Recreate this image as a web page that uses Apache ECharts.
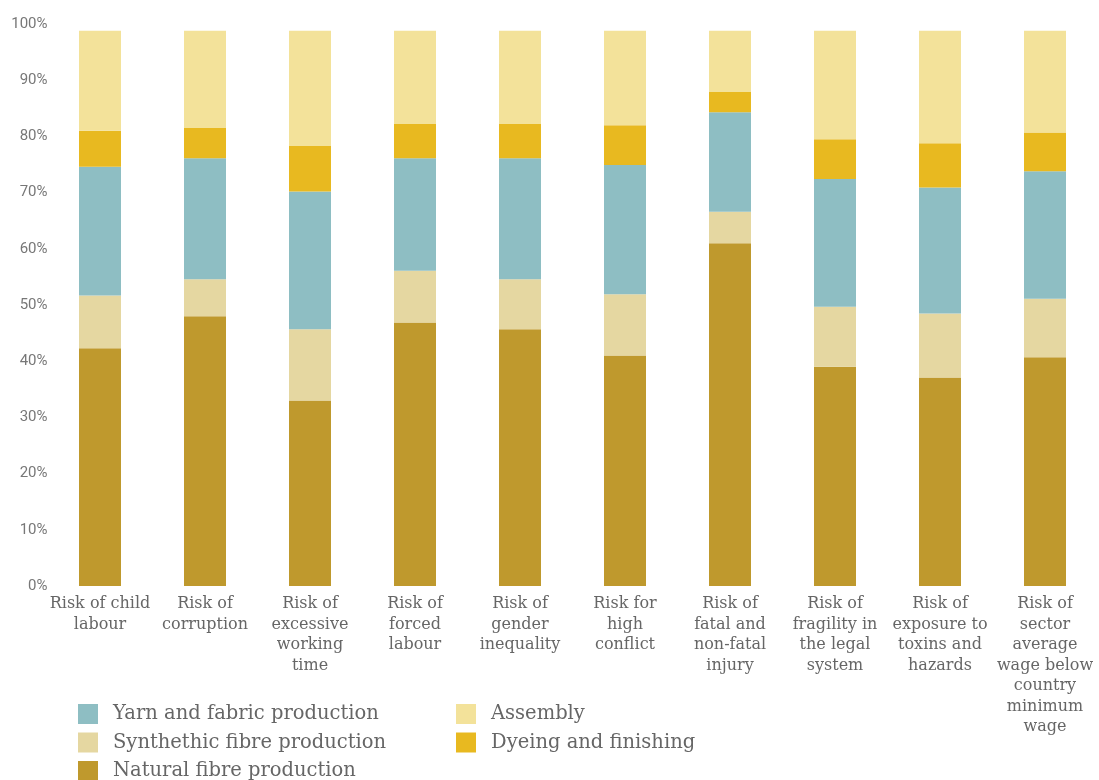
<!DOCTYPE html>
<html>
<head>
<meta charset="utf-8">
<script src="https://cdn.jsdelivr.net/npm/echarts@6/dist/echarts.min.js"></script>
<style>
html,body{margin:0;padding:0;background:#fff;}
#chart{width:1099px;height:780px;}
</style>
</head>
<body>
<div id="chart"></div>
<script>
const categories = [
  "Risk of child\nlabour",
  "Risk of\ncorruption",
  "Risk of\nexcessive\nworking\ntime",
  "Risk of\nforced\nlabour",
  "Risk of\ngender\ninequality",
  "Risk for\nhigh\nconflict",
  "Risk of\nfatal and\nnon-fatal\ninjury",
  "Risk of\nfragility in\nthe legal\nsystem",
  "Risk of\nexposure to\ntoxins and\nhazards",
  "Risk of\nsector\naverage\nwage below\ncountry\nminimum\nwage"
];
const naturalFibre = [42.3, 48.0, 33.0, 46.9, 45.7, 41.0, 61.0, 39.0, 37.1, 40.7];
const syntheticFibre = [9.4, 6.6, 12.7, 9.2, 8.9, 10.9, 5.6, 10.7, 11.4, 10.4];
const yarnFabric = [22.9, 21.5, 24.5, 20.0, 21.5, 23.0, 17.7, 22.7, 22.4, 22.7];
const dyeing = [6.4, 5.4, 8.1, 6.1, 6.1, 7.1, 3.6, 7.1, 7.9, 6.9];
const assembly = [17.8, 17.3, 20.5, 16.6, 16.6, 16.8, 10.9, 19.3, 20.0, 18.1];
const yTicks = [0, 10, 20, 30, 40, 50, 60, 70, 80, 90, 100];

const names = {
  yarn: "Yarn and fabric production",
  synth: "Synthethic fibre production",
  natural: "Natural fibre production",
  assembly: "Assembly",
  dye: "Dyeing and finishing"
};
const colors = {
  natural: "#BF992D",
  synth: "#E5D7A1",
  yarn: "#8EBEC3",
  dye: "#E8B920",
  assembly: "#F3E29A"
};

const serif = "'DejaVu Serif', 'Liberation Serif', serif";

function bar(name, data, color) {
  return {
    name: name, type: 'bar', stack: 'total', data: data,
    barWidth: 42,
    itemStyle: { color: color },
    emphasis: { disabled: true }
  };
}

function legendBlock(left, items) {
  return {
    orient: 'vertical', left: left, top: 704, height: 100, padding: 0,
    itemWidth: 20, itemHeight: 20, itemGap: 8.5,
    icon: 'rect',
    textStyle: { fontFamily: serif, fontSize: 19.5, color: '#666', padding: [0, 0, 0, 10] },
    data: items,
    selectedMode: false
  };
}

const chart = echarts.init(document.getElementById('chart'), null, { renderer: 'canvas' });
chart.setOption({
  animation: false,
  backgroundColor: '#ffffff',
  grid: { left: 47.5, right: 1.5, top: 24, bottom: 194, containLabel: false },
  legend: [
    legendBlock(78, [names.yarn, names.synth, names.natural]),
    legendBlock(456, [names.assembly, names.dye])
  ],
  xAxis: {
    type: 'category',
    data: categories,
    axisLine: { show: false },
    axisTick: { show: false },
    axisLabel: {
      interval: 0, margin: 8, fontFamily: serif, fontSize: 16, color: '#666',
      lineHeight: 20.5, align: 'center'
    }
  },
  yAxis: {
    type: 'value', min: 0, max: 100, interval: 10,
    axisLine: { show: false },
    axisTick: { show: false },
    splitLine: { show: false },
    axisLabel: {
      margin: 0, fontFamily: "Roboto, 'Open Sans', sans-serif", fontSize: 15, color: '#777',
      formatter: function (v) { return yTicks.indexOf(v) >= 0 ? v + '%' : ''; }
    }
  },
  series: [
    bar(names.natural, naturalFibre, colors.natural),
    bar(names.synth, syntheticFibre, colors.synth),
    bar(names.yarn, yarnFabric, colors.yarn),
    bar(names.dye, dyeing, colors.dye),
    bar(names.assembly, assembly, colors.assembly)
  ]
});
</script>
</body>
</html>
